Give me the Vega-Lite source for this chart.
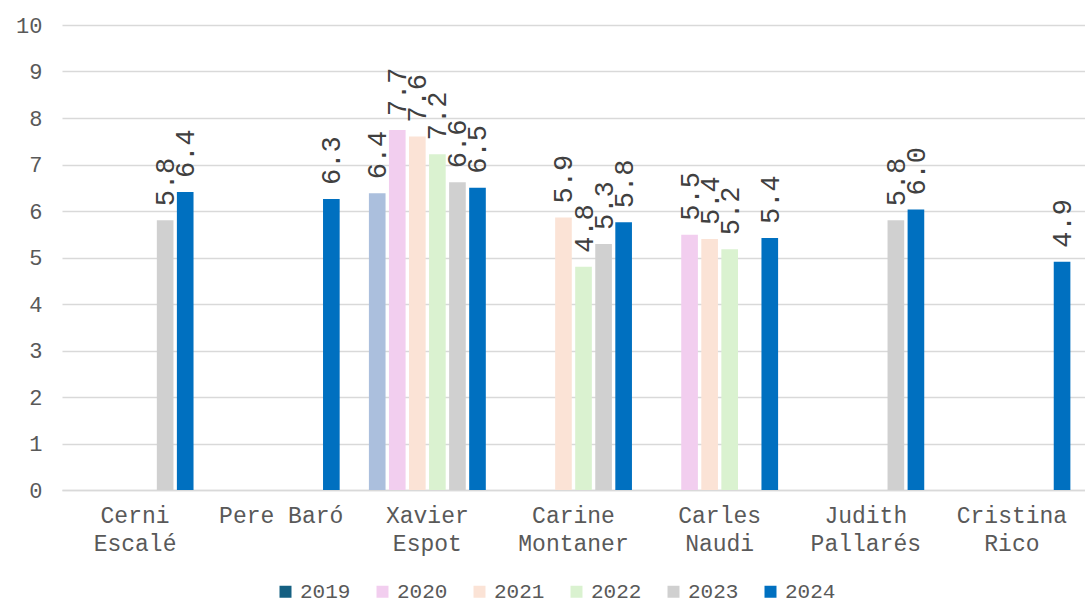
{
  "$schema": "https://vega.github.io/schema/vega-lite/v6.json",
  "autosize": {"type": "none"},
  "padding": {"left": 62, "top": 25, "right": 0, "bottom": 116},
  "width": 1023,
  "height": 465,
  "background": "white",
  "config": {
    "view": {"stroke": null},
    "font": "Liberation Mono"
  },
  "data": {
    "values": [
      {"name": "Cerni Escalé", "year": "2023", "value": 5.8},
      {"name": "Cerni Escalé", "year": "2024", "value": 6.41},
      {"name": "Pere Baró", "year": "2024", "value": 6.26},
      {"name": "Xavier Espot", "year": "2019", "value": 6.38},
      {"name": "Xavier Espot", "year": "2020", "value": 7.74},
      {"name": "Xavier Espot", "year": "2021", "value": 7.6},
      {"name": "Xavier Espot", "year": "2022", "value": 7.22},
      {"name": "Xavier Espot", "year": "2023", "value": 6.62},
      {"name": "Xavier Espot", "year": "2024", "value": 6.5},
      {"name": "Carine Montaner", "year": "2021", "value": 5.86},
      {"name": "Carine Montaner", "year": "2022", "value": 4.8},
      {"name": "Carine Montaner", "year": "2023", "value": 5.29},
      {"name": "Carine Montaner", "year": "2024", "value": 5.76},
      {"name": "Carles Naudi", "year": "2020", "value": 5.49},
      {"name": "Carles Naudi", "year": "2021", "value": 5.4},
      {"name": "Carles Naudi", "year": "2022", "value": 5.18},
      {"name": "Carles Naudi", "year": "2024", "value": 5.42},
      {"name": "Judith Pallarés", "year": "2023", "value": 5.8},
      {"name": "Judith Pallarés", "year": "2024", "value": 6.03},
      {"name": "Cristina Rico", "year": "2024", "value": 4.91}
    ]
  },
  "encoding": {
    "x": {
      "field": "name",
      "type": "nominal",
      "sort": ["Cerni Escalé", "Pere Baró", "Xavier Espot", "Carine Montaner", "Carles Naudi", "Judith Pallarés", "Cristina Rico"],
      "scale": {"paddingInner": 0.2, "paddingOuter": 0.1},
      "axis": {
        "title": null,
        "labelAngle": 0,
        "labelExpr": "length(datum.label) > 10 ? split(datum.label, ' ') : datum.label",
        "labelFont": "Liberation Mono",
        "labelFontSize": 23,
        "labelColor": "#595959",
        "labelLineHeight": 28,
        "labelPadding": 14,
        "ticks": false,
        "domainColor": "#d9d9d9",
        "domainWidth": 1.5,
        "labelLimit": 0
      }
    },
    "xOffset": {
      "field": "year",
      "type": "nominal",
      "scale": {"domain": ["2019", "2020", "2021", "2022", "2023", "2024"], "paddingInner": 0.17, "paddingOuter": 0}
    },
    "y": {
      "field": "value",
      "type": "quantitative",
      "scale": {"domain": [0, 10]},
      "axis": {
        "title": null,
        "values": [0, 1, 2, 3, 4, 5, 6, 7, 8, 9, 10],
        "domain": false,
        "ticks": false,
        "labelPadding": 20,
        "labelFont": "Liberation Mono",
        "labelFontSize": 22,
        "labelColor": "#595959",
        "gridColor": "#d9d9d9",
        "gridWidth": 1.5
      }
    }
  },
  "layer": [
    {
      "mark": {"type": "bar"},
      "encoding": {
        "color": {
          "condition": {"test": "datum.year === '2019'", "value": "#ABBFDD"},
          "field": "year",
          "type": "nominal",
          "scale": {
            "domain": ["2019", "2020", "2021", "2022", "2023", "2024"],
            "range": ["#156082", "#F2CEEF", "#FBE3D6", "#DAF2D0", "#D0D0D0", "#0070C0"]
          },
          "legend": {
            "title": null,
            "orient": "none",
            "direction": "horizontal",
            "legendX": 213,
            "legendY": 556,
            "symbolType": "square",
            "symbolSize": 144,
            "symbolStrokeWidth": 0,
            "labelFont": "Liberation Mono",
            "labelFontSize": 21,
            "labelColor": "#595959",
            "labelOffset": 4,
            "columnPadding": 21
          }
        }
      }
    },
    {
      "mark": {
        "type": "text",
        "angle": 270,
        "align": "left",
        "baseline": "middle",
        "dx": 14,
        "dy": 1,
        "font": "Liberation Mono",
        "fontSize": 27,
        "color": "#404040"
      },
      "encoding": {
        "text": {"field": "value", "type": "quantitative", "format": ".1f"}
      }
    }
  ]
}
